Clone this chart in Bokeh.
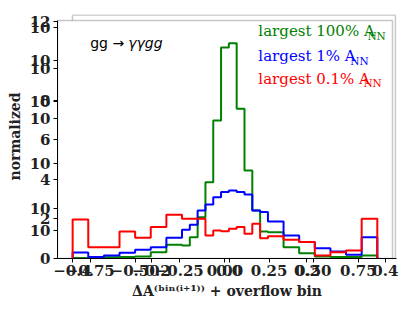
from bokeh.plotting import figure
from bokeh.models import FixedTicker, Label, BoxAnnotation, Range1d
from bokeh.embed import file_html
from bokeh.resources import INLINE

# bin edges (7 wide bins, 11 narrow central bins, 7 wide bins)
edges = [-0.78, -0.70, -0.62, -0.54, -0.46, -0.38, -0.30, -0.22,
         -0.18, -0.14, -0.10, -0.06, -0.02, 0.02, 0.06, 0.10, 0.14, 0.18, 0.22,
         0.30, 0.38, 0.46, 0.54, 0.62, 0.70, 0.78]

green_100 = [0.03, 0.05, 0.06, 0.08, 0.10, 0.32, 0.69,
             0.66, 1.08, 2.09, 3.86, 6.99, 10.68, 10.89, 7.58, 4.46, 2.43, 1.37,
             1.33, 0.57, 0.27, 0.10, 0.07, 0.07, 0.15]
blue_1 = [0.30, 0.07, 0.15, 0.29, 0.44, 0.57, 1.05,
          1.45, 1.71, 2.43, 2.73, 3.10, 3.36, 3.44, 3.36, 3.24, 2.43, 2.35,
          1.87, 1.16, 0.83, 0.52, 0.35, 0.19, 1.08]
red_01 = [1.97, 0.57, 0.57, 1.37, 1.05, 1.60, 2.21,
          2.01, 2.01, 2.01, 1.16, 1.42, 1.38, 1.50, 1.59, 1.25, 1.76, 1.03,
          1.13, 0.95, 0.83, 0.15, 0.32, 0.41, 2.01]

# y tick labels: linear axis and overlapping log-axis labels
y_lin_ticks = [0, 2, 4, 6, 8, 10, 12]
y_lin_labels = ["0", "2", "4", "6", "8", "10", "12"]
y_log_ticks = [1.42, 2.53, 4.81, 7.09, 7.95, 9.62, 11.7]
y_log_labels = ["10", "10", "10", "10", "10", "10", "10"]

# x tick labels (two overlapping scales)
x_ticks = [-0.78, -0.69, -0.46, -0.377, -0.234, 0.0, 0.022, 0.226, 0.42, 0.452, 0.683, 0.821]
x_labels = ["\u22120.4", "\u22120.75", "\u22120.50", "\u22120.2", "\u22120.25", "0.00", "0.0",
            "0.25", "0.2", "0.50", "0.75", "0.4"]


def step_path(e, v):
    xs = [e[0]]
    ys = [0]
    for i, val in enumerate(v):
        xs += [e[i], e[i + 1]]
        ys += [val, val]
    xs.append(e[-1])
    ys.append(0)
    return xs, ys


# frame spans both overlapping axes boxes
p = figure(width=404, height=308, output_backend="svg", toolbar_location=None,
           x_range=Range1d(-0.8575, 0.8783), y_range=Range1d(0, 12.35),
           min_border_left=57, min_border_right=8, min_border_top=14, min_border_bottom=50)
p.grid.visible = False
p.outline_line_color = None
p.background_fill_color = "white"
p.border_fill_color = "white"

# outer (second) axes frame, partly hidden behind the main axes box
outer = BoxAnnotation(left=15, right=338, top=243.5, bottom=0,
                      left_units="screen", right_units="screen", top_units="screen", bottom_units="screen",
                      fill_alpha=0, line_color="#444444", line_width=1.5, level="underlay")
inner = BoxAnnotation(left=0, right=335, top=238, bottom=0,
                      left_units="screen", right_units="screen", top_units="screen", bottom_units="screen",
                      fill_color="white", fill_alpha=1, line_color="#444444", line_width=1.5,
                      level="underlay")
p.add_layout(outer)
p.add_layout(inner)

for vals, col in [(green_100, "green"), (blue_1, "blue"), (red_01, "red")]:
    xs, ys = step_path(edges, vals)
    p.line(xs, ys, line_color=col, line_width=2)

yticks = y_lin_ticks + y_log_ticks
overrides = {t: l for t, l in zip(y_lin_ticks, y_lin_labels)}
overrides.update({t: l for t, l in zip(y_log_ticks, y_log_labels)})
p.yaxis.ticker = FixedTicker(ticks=yticks)
p.yaxis.major_label_overrides = overrides
p.yaxis.bounds = (0, 12.05)
p.xaxis.ticker = FixedTicker(ticks=x_ticks)
p.xaxis.major_label_overrides = {t: l for t, l in zip(x_ticks, x_labels)}

for ax in (p.xaxis, p.yaxis):
    ax.major_label_text_font = "DejaVu Serif"
    ax.major_label_text_font_style = "bold"
    ax.major_label_text_font_size = "15px"
    ax.major_label_text_color = "#222222"
    ax.minor_tick_line_color = None
    ax.major_tick_in = 0
    ax.major_tick_out = 4
    ax.axis_line_color = "black"
    ax.major_tick_line_color = "black"
    ax.axis_label_text_font = "DejaVu Serif"
    ax.axis_label_text_font_style = "bold"
    ax.axis_label_text_font_size = "14px"
    ax.axis_label_text_color = "#222222"
p.yaxis.major_label_standoff = 3
p.yaxis.axis_label_standoff = 4
p.xaxis.major_label_standoff = 2
p.xaxis.axis_label_standoff = 4
p.yaxis.axis_label = "normalized"
p.xaxis.axis_label = "\u0394A\u207d\u1d47\u2071\u207f\u207d\u2071\u207a\u00b9\u207e\u207e + overflow bin"

# process annotation
p.add_layout(Label(x=-0.69, y=10.5, text="gg \u2192 ", text_font="DejaVu Sans",
                   text_font_size="14px", text_color="black"))
p.add_layout(Label(x=-0.495, y=10.5, text="\u03b3\u03b3gg", text_font="DejaVu Sans",
                   text_font_style="italic", text_font_size="14px", text_color="black"))

# colored legend texts
legend_rows = [("largest 100% A", "green", 11.05, 0.7293),
               ("largest 1% A", "blue", 9.8, 0.642),
               ("largest 0.1% A", "red", 8.65, 0.709)]
for txt, col, yy, xsub in legend_rows:
    p.add_layout(Label(x=0.171, y=yy, text=txt, text_font="DejaVu Serif",
                       text_font_size="15px", text_color=col))
    p.add_layout(Label(x=xsub, y=yy - 0.09, text="NN", text_font="DejaVu Serif",
                       text_font_size="10.5px", text_color=col))

open("out.html", "w").write(file_html(p, INLINE))
